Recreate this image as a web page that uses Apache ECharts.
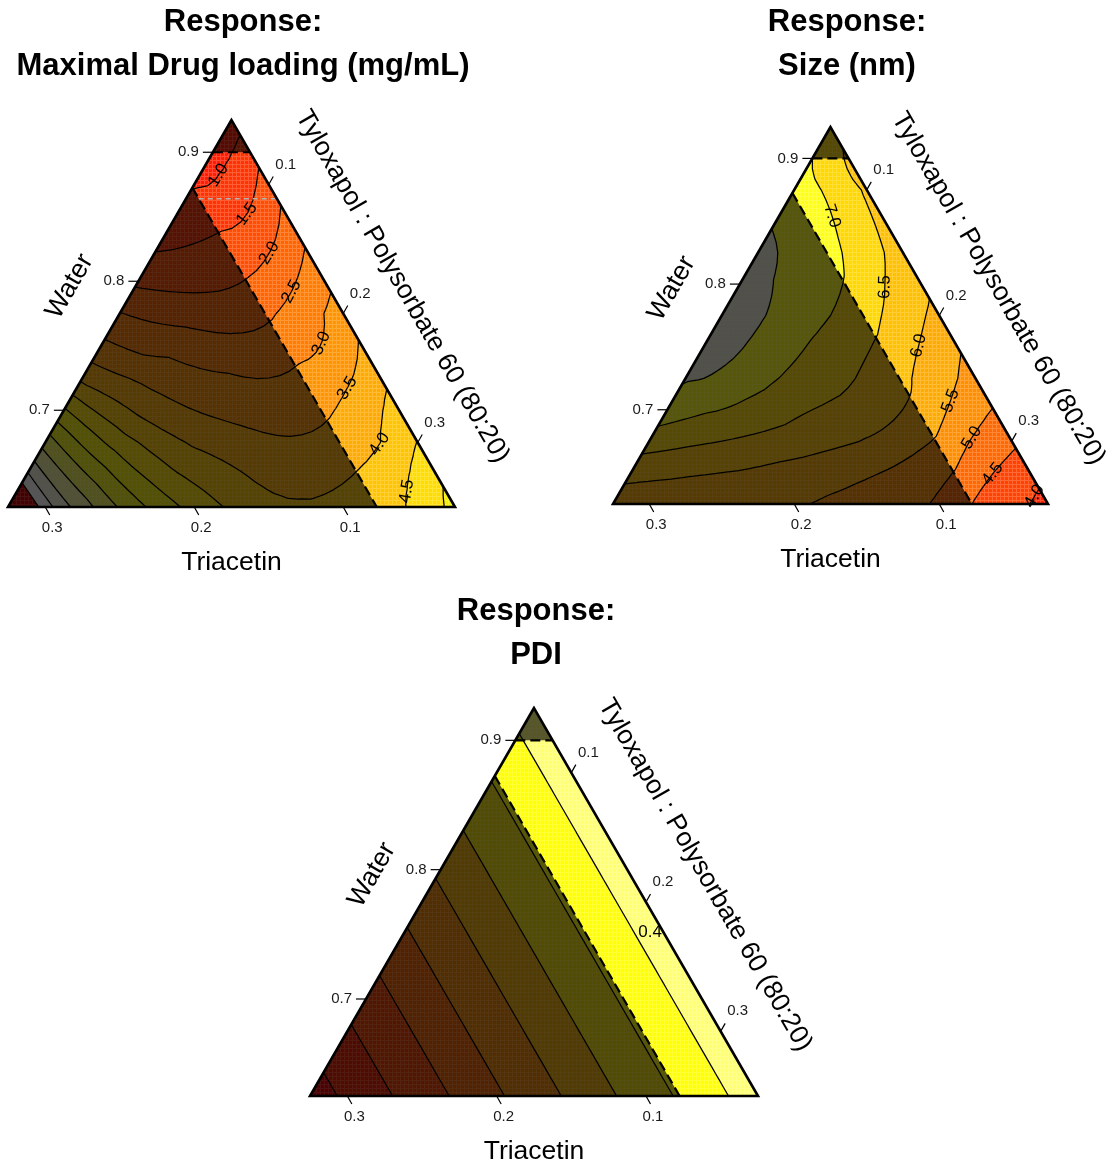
<!DOCTYPE html>
<html>
<head>
<meta charset="utf-8">
<script src="https://cdn.jsdelivr.net/npm/echarts@6/dist/echarts.min.js"></script>
<style>
html,body{margin:0;padding:0;background:#ffffff;}
#chart{width:1109px;height:1164px;}
</style>
</head>
<body>
<div id="chart"></div>
<script>
// ================= DATA =================
const waterMin = 0.625;
const triacetinMin = 0.025;
const surfactantMin = 0.05;
const regionSpan = 0.3;
const waterUpperLimit = 0.9;
const triacetinUpperLimit = 0.0775;
const waterGuide = 0.864;

const waterTicks = [0.7, 0.8, 0.9];
const triacetinTicks = [0.1, 0.2, 0.3];
const surfactantTicks = [0.1, 0.2, 0.3];

const panelTitles = ['Maximal Drug loading (mg/mL)', 'Size (nm)', 'PDI'];
const axisNames = ['Water', 'Triacetin', 'Tyloxapol : Polysorbate 60 (80:20)'];

// lattice rows: r = water step from the bottom edge (0..12); columns = surfactant step (0..12-r)
const loadingLevels = [1.0, 1.5, 2.0, 2.5, 3.0, 3.5, 4.0, 4.5, 5.0, 5.5, 6.0, 6.5, 7.0, 7.5, 8.0];
const loadingLabelled = [1.0, 1.5, 2.0, 2.5, 3.0, 3.5, 4.0, 4.5];
const loadingGrid = [
  [9.4, 7.75, 6.75, 5.95, 5.34, 4.82, 4.42, 4.12, 4.05, 4.15, 4.35, 4.62, 5.2],
  [7.6, 6.52, 5.73, 5.05, 4.55, 4.23, 3.97, 3.84, 3.87, 4.05, 4.4, 4.88],
  [6.3, 5.42, 4.75, 4.28, 3.93, 3.75, 3.6, 3.58, 3.76, 4.0, 4.52],
  [5.07, 4.38, 3.91, 3.61, 3.42, 3.3, 3.26, 3.42, 3.8, 4.21],
  [3.87, 3.56, 3.33, 3.13, 3.05, 3.0, 3.14, 3.4, 3.89],
  [3.13, 2.88, 2.81, 2.69, 2.64, 2.8, 3.03, 3.56],
  [2.52, 2.36, 2.27, 2.27, 2.43, 2.8, 3.23],
  [1.9, 1.86, 1.89, 2.04, 2.39, 2.88],
  [1.47, 1.55, 1.71, 1.97, 2.52],
  [1.2, 1.33, 1.55, 2.14],
  [0.96, 1.16, 1.73],
  [0.8, 1.27],
  [0.75]
];

const sizeLevels = [4.0, 4.5, 5.0, 5.5, 6.0, 6.5, 7.0, 7.5];
const sizeLabelled = [4.0, 4.5, 5.0, 5.5, 6.0, 6.5, 7.0];
const sizeGrid = [
  [5.75, 5.72, 5.7, 5.67, 5.63, 5.55, 5.42, 5.28, 5.13, 4.92, 4.45, 4.15, 3.85],
  [6.17, 6.1, 6.03, 5.97, 5.88, 5.78, 5.65, 5.48, 5.25, 4.95, 4.5, 4.18],
  [6.76, 6.62, 6.5, 6.38, 6.25, 6.12, 5.97, 5.75, 5.42, 4.93, 4.6],
  [7.23, 7.06, 6.9, 6.72, 6.5, 6.32, 6.12, 5.85, 5.35, 4.98],
  [7.55, 7.42, 7.15, 6.9, 6.72, 6.4, 6.08, 5.72, 5.27],
  [7.7, 7.53, 7.25, 6.95, 6.7, 6.38, 5.97, 5.56],
  [7.75, 7.55, 7.3, 7.0, 6.68, 6.25, 5.86],
  [7.72, 7.48, 7.25, 6.95, 6.5, 6.1],
  [7.6, 7.4, 7.12, 6.72, 6.25],
  [7.46, 7.22, 6.82, 6.35],
  [7.24, 6.9, 6.42],
  [7.0, 6.42],
  [6.8]
];

const pdiLevels = [0.05, 0.10, 0.15, 0.20, 0.25, 0.30, 0.35, 0.40];
const pdiLabelled = [0.40];
// PDI varies with triacetin only: triacetin step 0 (minimum) .. 12 (maximum)
const pdiByTriacetinStep = [0.426, 0.393, 0.359, 0.326, 0.293, 0.259, 0.226, 0.193, 0.159, 0.126, 0.093, 0.059, 0.026];

// ================= STYLE =================
const FONT = "'Liberation Sans', Arial, Helvetica, sans-serif";
const SHADE = 'rgba(0,0,0,0.66)';
const bandColors = [
  ['#ff1c00', '#ff3200', '#ff4c00', '#ff6400', '#ff7c00', '#ff9400', '#ffaa00', '#ffc400', '#ffdc00',
   '#f6f000', '#f0f010', '#eeee50', '#ecec9a', '#f0f0d8', '#f8f8f8', '#c40000'],
  ['#ff2400', '#ff4200', '#ff6800', '#ff8e00', '#ffaa00', '#ffc000', '#ffd800', '#ffff14', '#ececd8'],
  ['#e00000', '#e82000', '#f04000', '#f06000', '#f08400', '#f0aa00', '#f0dc00', '#ffff00', '#ffff70']
];
const labelStyles = [
  { horizontal: false, dx: 0, at: 0.5, midT: true },
  { horizontal: false, dx: 0, at: 0.5, midT: true },
  { horizontal: true, dx: 16, at: 0.54, midT: false }
];
const grids = [
  { left: 8, top: 120, width: 447, height: 387 },
  { left: 613, top: 127, width: 435, height: 377 },
  { left: 310, top: 708, width: 448, height: 388 }
];
const titleCenters = [[243, 22], [847, 22], [536, 611]];

// ================= GEOMETRY =================
const SQ = Math.sqrt(3) / 2;
function toCart(w, s) {
  const a = (w - waterMin) / regionSpan;
  const sp = (s - surfactantMin) / regionSpan;
  return [sp + a / 2, a * SQ];
}
function fromCart(p) {
  const a = p[1] / SQ, sp = p[0] - a / 2;
  const w = waterMin + a * regionSpan, s = surfactantMin + sp * regionSpan;
  return { w: w, s: s, t: 1 - w - s };
}
function isFeasible(p) {
  const q = fromCart(p);
  return q.w <= waterUpperLimit + 1e-9 && q.t <= triacetinUpperLimit + 1e-9;
}
function midTriacetinGap(p) {
  const q = fromCart(p);
  const hi = Math.min(triacetinUpperLimit, 1 - q.w - surfactantMin);
  return q.t - (triacetinMin + hi) / 2;
}
function elementTriangles(grid, M) {
  const N = grid.length - 1, H = N / 2, out = [];
  const pos = (i, j) => [j / N + i / N / 2, (i / N) * SQ];
  const els = [];
  for (let I = 0; I < H; I++) for (let J = 0; J < H - I; J++) {
    els.push([[2 * I, 2 * J], [2 * I, 2 * J + 2], [2 * I + 2, 2 * J]]);
    if (J < H - I - 1) els.push([[2 * I, 2 * J + 2], [2 * I + 2, 2 * J + 2], [2 * I + 2, 2 * J]]);
  }
  els.forEach(el => {
    const A = el[0], B = el[1], C = el[2];
    const g = (P, Q) => grid[(P[0] + Q[0]) / 2][(P[1] + Q[1]) / 2];
    const v1 = grid[A[0]][A[1]], v2 = grid[B[0]][B[1]], v3 = grid[C[0]][C[1]];
    const v12 = g(A, B), v23 = g(B, C), v31 = g(C, A);
    const f = (L1, L2, L3) => v1 * L1 * (2 * L1 - 1) + v2 * L2 * (2 * L2 - 1) + v3 * L3 * (2 * L3 - 1)
      + 4 * (v12 * L1 * L2 + v23 * L2 * L3 + v31 * L3 * L1);
    const node = (p, q) => {
      const L2 = p / M, L3 = q / M, L1 = 1 - L2 - L3;
      return { p: pos(A[0] * L1 + B[0] * L2 + C[0] * L3, A[1] * L1 + B[1] * L2 + C[1] * L3), v: f(L1, L2, L3) };
    };
    const nodes = [];
    for (let p = 0; p <= M; p++) { nodes.push([]); for (let q = 0; q <= M - p; q++) nodes[p].push(node(p, q)); }
    for (let p = 0; p < M; p++) for (let q = 0; q < M - p; q++) {
      out.push([nodes[p][q], nodes[p + 1][q], nodes[p][q + 1]]);
      if (q < M - p - 1) out.push([nodes[p + 1][q], nodes[p + 1][q + 1], nodes[p][q + 1]]);
    }
  });
  return out;
}
function clipPoly(poly, level, keepAbove) {
  const out = [];
  for (let k = 0; k < poly.length; k++) {
    const A = poly[k], B = poly[(k + 1) % poly.length];
    const ina = keepAbove ? A.v >= level : A.v < level;
    const inb = keepAbove ? B.v >= level : B.v < level;
    if (ina) out.push(A);
    if (ina !== inb) {
      const f = (level - A.v) / (B.v - A.v);
      out.push({ p: [A.p[0] + f * (B.p[0] - A.p[0]), A.p[1] + f * (B.p[1] - A.p[1])], v: level });
    }
  }
  return out;
}
function chain(segs) {
  const key = p => Math.round(p[0] * 1e6) + ',' + Math.round(p[1] * 1e6);
  const adj = new Map();
  segs.forEach((s, idx) => [0, 1].forEach(e => {
    const k = key(s[e]);
    if (!adj.has(k)) adj.set(k, []);
    adj.get(k).push([idx, e]);
  }));
  const used = segs.map(() => false), lines = [];
  for (let s0 = 0; s0 < segs.length; s0++) {
    if (used[s0]) continue;
    used[s0] = true;
    const pts = [segs[s0][0], segs[s0][1]];
    [true, false].forEach(atEnd => {
      for (;;) {
        const tip = atEnd ? pts[pts.length - 1] : pts[0];
        const c = (adj.get(key(tip)) || []).find(x => !used[x[0]]);
        if (!c) break;
        used[c[0]] = true;
        const other = segs[c[0]][1 - c[1]];
        if (atEnd) pts.push(other); else pts.unshift(other);
      }
    });
    lines.push(pts);
  }
  return lines;
}
function buildPanel(grid, levels, colors) {
  const tris = elementTriangles(grid, 6);
  const fills = [], segs = {};
  levels.forEach(l => segs[l] = []);
  tris.forEach(tri => {
    for (let b = 0; b <= levels.length; b++) {
      let poly = tri;
      if (b > 0) poly = clipPoly(poly, levels[b - 1], true);
      if (poly.length >= 3 && b < levels.length) poly = clipPoly(poly, levels[b], false);
      if (poly.length >= 3) fills.push({ pts: poly.map(n => n.p), color: colors[b] });
    }
    levels.forEach(l => {
      const pts = [];
      for (let k = 0; k < 3; k++) {
        const A = tri[k], B = tri[(k + 1) % 3];
        if ((A.v >= l) !== (B.v >= l)) {
          const f = (l - A.v) / (B.v - A.v);
          pts.push([A.p[0] + f * (B.p[0] - A.p[0]), A.p[1] + f * (B.p[1] - A.p[1])]);
        }
      }
      if (pts.length === 2) segs[l].push(pts);
    });
  });
  const lines = {};
  levels.forEach(l => lines[l] = chain(segs[l]));
  return { fills: fills, lines: lines };
}

const pdiGrid = [];
for (let i = 0; i <= 12; i++) {
  const row = [];
  for (let j = 0; j <= 12 - i; j++) row.push(pdiByTriacetinStep[12 - i - j]);
  pdiGrid.push(row);
}

const panels = [
  Object.assign(buildPanel(loadingGrid, loadingLevels, bandColors[0]), { labelled: loadingLabelled, guide: true, lab: labelStyles[0] }),
  Object.assign(buildPanel(sizeGrid, sizeLevels, bandColors[1]), { labelled: sizeLabelled, guide: false, lab: labelStyles[1] }),
  Object.assign(buildPanel(pdiGrid, pdiLevels, bandColors[2]), { labelled: pdiLabelled, guide: false, lab: labelStyles[2] })
];

function makeHatch() {
  const c = document.createElement('canvas');
  c.width = 4; c.height = 4;
  const g = c.getContext('2d');
  g.fillStyle = 'rgba(255,255,255,0.2)';
  g.fillRect(0, 0, 4, 1);
  g.fillRect(0, 1, 1, 3);
  return c;
}
const hatch = makeHatch();

const apex = toCart(waterMin + regionSpan, surfactantMin);
const cornerBL = toCart(waterMin, surfactantMin);
const cornerBR = toCart(waterMin, surfactantMin + regionSpan);

function labelPlacement(panel, runCart, P) {
  if (runCart[0][1] < runCart[runCart.length - 1][1]) runCart = runCart.slice().reverse();
  const px = runCart.map(P);
  const cum = [0];
  for (let k = 1; k < px.length; k++) cum.push(cum[k - 1] + Math.hypot(px[k][0] - px[k - 1][0], px[k][1] - px[k - 1][1]));
  const total = cum[cum.length - 1];
  let target = total * panel.lab.at;
  if (panel.lab.midT) {
    for (let k = 1; k < runCart.length; k++) {
      const g0 = midTriacetinGap(runCart[k - 1]), g1 = midTriacetinGap(runCart[k]);
      if ((g0 >= 0) !== (g1 >= 0)) {
        const f = g0 / (g0 - g1);
        const s = cum[k - 1] + f * (cum[k] - cum[k - 1]);
        if (s > 0.12 * total && s < 0.88 * total) target = s;
        break;
      }
    }
  }
  let k = 1;
  while (k < px.length - 1 && cum[k] < target) k++;
  const a = px[k - 1], b = px[k];
  const d = (cum[k] - cum[k - 1]) || 1;
  const f = Math.max(0, Math.min(1, (target - cum[k - 1]) / d));
  let ang = Math.atan2(-(b[1] - a[1]), b[0] - a[0]);
  if (ang > Math.PI / 2) ang -= Math.PI;
  if (ang <= -Math.PI / 2) ang += Math.PI;
  return { x: a[0] + f * (b[0] - a[0]), y: a[1] + f * (b[1] - a[1]), ang: ang, len: total };
}

function makeRender(panel) {
  return function (params, api) {
    const P = q => api.coord(q);
    const kids = [];
    panel.fills.forEach(f => kids.push({
      type: 'polygon', shape: { points: f.pts.map(P) },
      style: { fill: f.color, stroke: f.color, lineWidth: 0.7 }
    }));
    const tri = [apex, cornerBL, cornerBR].map(P);
    kids.push({ type: 'polygon', shape: { points: tri }, style: { fill: { image: hatch, repeat: 'repeat' } } });
    const shadeTop = [apex, toCart(waterUpperLimit, surfactantMin), toCart(waterUpperLimit, 1 - waterUpperLimit - triacetinMin)];
    const shadeLeft = [cornerBL, toCart(waterMin, 1 - waterMin - triacetinUpperLimit), toCart(1 - surfactantMin - triacetinUpperLimit, surfactantMin)];
    [shadeTop, shadeLeft].forEach(s => kids.push({ type: 'polygon', shape: { points: s.map(P) }, style: { fill: SHADE } }));
    Object.keys(panel.lines).forEach(l => panel.lines[l].forEach(pl => {
      kids.push({ type: 'polyline', shape: { points: pl.map(P) }, style: { fill: null, stroke: '#000', lineWidth: 1.25, lineJoin: 'round' } });
    }));
    if (panel.guide) {
      const g1 = P(toCart(waterGuide, 1 - waterGuide - triacetinUpperLimit));
      const g2 = P(toCart(waterGuide, 1 - waterGuide - triacetinMin));
      kids.push({ type: 'line', shape: { x1: g1[0], y1: g1[1], x2: g2[0], y2: g2[1] }, style: { stroke: '#b4b4b4', lineWidth: 1.5, lineDash: [5, 4] } });
    }
    const h1 = P(toCart(waterUpperLimit, surfactantMin)), h2 = P(toCart(waterUpperLimit, 1 - waterUpperLimit - triacetinMin));
    kids.push({ type: 'line', shape: { x1: h1[0], y1: h1[1], x2: h2[0], y2: h2[1] }, style: { stroke: '#000', lineWidth: 2.2, lineDash: [10, 5] } });
    const d1 = P(toCart(1 - surfactantMin - triacetinUpperLimit, surfactantMin)), d2 = P(toCart(waterMin, 1 - waterMin - triacetinUpperLimit));
    kids.push({ type: 'line', shape: { x1: d1[0], y1: d1[1], x2: d2[0], y2: d2[1] }, style: { stroke: '#000', lineWidth: 2.2, lineDash: [10, 5] } });
    kids.push({ type: 'polygon', shape: { points: tri }, style: { fill: 'none', stroke: '#000', lineWidth: 2.6, lineJoin: 'miter' } });
    const tickStyle = { stroke: '#000', lineWidth: 1.2 };
    const lab = (txt, x, y, align) => ({ type: 'text', style: { text: txt, x: x, y: y, fill: '#1a1a1a', font: '15px ' + FONT, align: align, verticalAlign: 'middle' } });
    waterTicks.forEach(w => {
      const b = P(toCart(w, surfactantMin));
      kids.push({ type: 'line', shape: { x1: b[0], y1: b[1], x2: b[0] - 10, y2: b[1] }, style: tickStyle });
      kids.push(lab(w.toFixed(1), b[0] - 14, b[1], 'right'));
    });
    triacetinTicks.forEach(t => {
      const b = P(toCart(waterMin, 1 - waterMin - t));
      kids.push({ type: 'line', shape: { x1: b[0], y1: b[1], x2: b[0] + 4.5, y2: b[1] + 8 }, style: tickStyle });
      kids.push(lab(t.toFixed(1), b[0] + 7, b[1] + 21, 'center'));
    });
    surfactantTicks.forEach(s => {
      const b = P(toCart(1 - triacetinMin - s, s));
      kids.push({ type: 'line', shape: { x1: b[0], y1: b[1], x2: b[0] + 4.5, y2: b[1] - 8 }, style: tickStyle });
      kids.push(lab(s.toFixed(1), b[0] + 17, b[1] - 20, 'center'));
    });
    panel.labelled.forEach(l => {
      let best = null;
      (panel.lines[l] || []).forEach(pl => {
        let run = [];
        const flush = () => {
          if (run.length > 1) {
            const cand = labelPlacement(panel, run, P);
            if (!best || cand.len > best.len) best = cand;
          }
          run = [];
        };
        pl.forEach(pt => { if (isFeasible(pt)) run.push(pt); else flush(); });
        flush();
      });
      if (!best) return;
      kids.push({
        type: 'text', x: best.x + panel.lab.dx, y: best.y, rotation: panel.lab.horizontal ? 0 : best.ang,
        style: { text: Number(l).toFixed(1), fill: '#000', font: '17px ' + FONT, align: 'center', verticalAlign: 'middle' }
      });
    });
    const leftMid = P(toCart(waterMin + regionSpan / 2, surfactantMin));
    const rightMid = P(toCart(waterMin + regionSpan / 2, 1 - waterMin - regionSpan / 2 - triacetinMin));
    const botMid = P(toCart(waterMin, surfactantMin + regionSpan / 2));
    const nameStyle = t => ({ text: t, fill: '#000', font: '26.5px ' + FONT, align: 'center', verticalAlign: 'middle' });
    kids.push({ type: 'text', x: leftMid[0] - 50, y: leftMid[1] - 27, rotation: Math.PI / 3, style: nameStyle(axisNames[0]) });
    kids.push({ type: 'text', x: botMid[0], y: botMid[1] + 56, style: nameStyle(axisNames[1]) });
    kids.push({ type: 'text', x: rightMid[0] + 59, y: rightMid[1] - 27, rotation: -Math.PI / 3, style: nameStyle(axisNames[2]) });
    return { type: 'group', children: kids };
  };
}

const titleTexts = [];
titleCenters.forEach((c, k) => {
  ['Response:', panelTitles[k]].forEach((t, m) => titleTexts.push({
    type: 'text', x: c[0], y: c[1] + 44 * m,
    style: { text: t, fill: '#000', font: 'bold 31px ' + FONT, align: 'center', verticalAlign: 'middle' }
  }));
});

const option = {
  animation: false,
  backgroundColor: '#ffffff',
  grid: grids.map(g => Object.assign({ containLabel: false }, g)),
  xAxis: grids.map((g, k) => ({ type: 'value', gridIndex: k, min: 0, max: 1, show: false })),
  yAxis: grids.map((g, k) => ({ type: 'value', gridIndex: k, min: 0, max: SQ, show: false })),
  graphic: titleTexts,
  series: panels.map((p, k) => ({
    type: 'custom', coordinateSystem: 'cartesian2d', xAxisIndex: k, yAxisIndex: k,
    silent: true, clip: false, data: [[0.5, 0.4]], renderItem: makeRender(p)
  }))
};
const chart = echarts.init(document.getElementById('chart'), null, { renderer: 'canvas' });
chart.setOption(option);
</script>
</body>
</html>
